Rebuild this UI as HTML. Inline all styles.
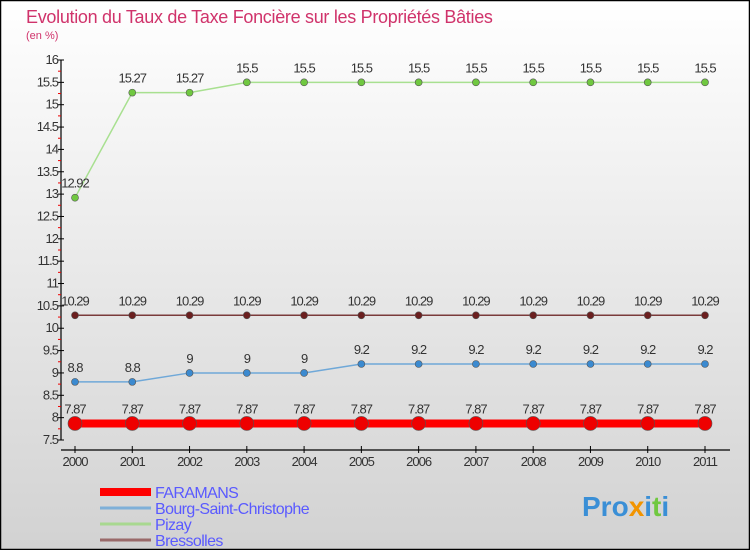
<!DOCTYPE html>
<html><head><meta charset="utf-8"><style>
html,body{margin:0;padding:0}
body{width:750px;height:550px;overflow:hidden;font-family:"Liberation Sans",sans-serif}
</style></head><body>
<svg id="chart" width="750" height="550" xmlns="http://www.w3.org/2000/svg">
<defs><linearGradient id="bg" x1="0" y1="0" x2="0" y2="1"><stop offset="0" stop-color="#ffffff"/><stop offset="1" stop-color="#d2d2d2"/></linearGradient></defs>
<rect x="0.5" y="0.5" width="749" height="549" fill="url(#bg)" stroke="#000" stroke-width="1.5"/>
<text x="26" y="23" font-size="18" fill="#d0336b" letter-spacing="-0.3">Evolution du Taux de Taxe Foncière sur les Propriétés Bâties</text>
<text x="26" y="39" font-size="11" fill="#d0336b">(en %)</text>
<g id="axes"></g><g id="series"></g><g id="legend"></g>
<text x="582" y="516" font-size="28" font-weight="bold" fill="#3a8fd6">Pro<tspan fill="#f29400">x</tspan>i<tspan fill="#70c840">t</tspan>i</text>
</svg>
<script>
const years=[2000,2001,2002,2003,2004,2005,2006,2007,2008,2009,2010,2011];
const yTicks=[7.5,8,8.5,9,9.5,10,10.5,11,11.5,12,12.5,13,13.5,14,14.5,15,15.5,16];
const faramans=[7.87,7.87,7.87,7.87,7.87,7.87,7.87,7.87,7.87,7.87,7.87,7.87];
const bourg=[8.8,8.8,9,9,9,9.2,9.2,9.2,9.2,9.2,9.2,9.2];
const pizay=[12.92,15.27,15.27,15.5,15.5,15.5,15.5,15.5,15.5,15.5,15.5,15.5];
const bressolles=[10.29,10.29,10.29,10.29,10.29,10.29,10.29,10.29,10.29,10.29,10.29,10.29];
const seriesNames=["FARAMANS","Bourg-Saint-Christophe","Pizay","Bressolles"];
const NS="http://www.w3.org/2000/svg";
const X=i=>75+i*(630/11);
const Y=v=>440-(v-7.5)*(380/8.5);
function mk(p,tag,a){const e=document.createElementNS(NS,tag);for(const k in a)e.setAttribute(k,a[k]);p.appendChild(e);return e;}
const ax=document.getElementById('axes');
let l=mk(ax,'line',{x1:61,y1:60,x2:61,y2:440,stroke:'#000','stroke-width':1.2});


l=mk(ax,'line',{x1:61,y1:450,x2:730,y2:450,stroke:'#000','stroke-width':1.2});


yTicks.forEach((v,i)=>{
  const y=Y(v);
  const t=mk(ax,'line',{x1:58,y1:y,x2:64,y2:y,stroke:'#000'});
  
  
  if(i<yTicks.length-1){const m=mk(ax,'line',{x1:58,y1:(y+Y(yTicks[i+1]))/2,x2:61,y2:(y+Y(yTicks[i+1]))/2,stroke:'#e00'});
  
  }
  const tx=mk(ax,'text',{x:58,y:y+4,'font-size':13,'text-anchor':'end',fill:'#333','letter-spacing':'-1'});
  tx.textContent=String(v);
  
  
});
years.forEach((yr,i)=>{
  const x=X(i);
  const t=mk(ax,'line',{x1:x,y1:446,x2:x,y2:453,stroke:'#000'});
  
  
  const tx=mk(ax,'text',{x:x,y:466,'font-size':13,'text-anchor':'middle',fill:'#333','letter-spacing':'-1'});
  tx.textContent=String(yr);
  
  
});
const sg=document.getElementById('series');
const defs=[
 {d:bressolles,c:'#7a3b3b',w:1.5,r:3.5,f:'#6b1f1f',n:'bressolles'},
 {d:pizay,c:'#a8e090',w:1.5,r:3.5,f:'#70c840',n:'pizay'},
 {d:bourg,c:'#6fa8d8',w:1.5,r:3.5,f:'#3b8ad0',n:'bourg-saint-christophe'},
 {d:faramans,c:'#f00',w:8,r:7,f:'#e00',n:'faramans'}];
defs.forEach(s=>{
  const pl=mk(sg,'polyline',{points:s.d.map((v,i)=>X(i)+','+Y(v)).join(' '),fill:'none',stroke:s.c,'stroke-width':s.w});
  
  
  s.d.forEach((v,i)=>{
    const c=mk(sg,'circle',{cx:X(i),cy:Y(v),r:s.r,fill:s.f,stroke:'#555','stroke-width':0.6});
    
    
    const t=mk(sg,'text',{x:X(i),y:Y(v)-10,'font-size':13,'text-anchor':'middle',fill:'#333','letter-spacing':'-1'});
    t.textContent=String(v);
    
    
  });
});
const lg=document.getElementById('legend');
const lc=[['#f00',8],['#7fb0d8',3],['#a8d890',3],['#9a6a6a',3]];
seriesNames.forEach((n,i)=>{
  const y=492+i*16;
  const ln=mk(lg,'line',{x1:100,y1:y,x2:151,y2:y,stroke:lc[i][0],'stroke-width':lc[i][1]});
  
  
  const t=mk(lg,'text',{x:155,y:y+6,'font-size':16,fill:'#5a5aff','letter-spacing':'-0.6'});
  t.textContent=n;
  
  
});
</script>
</body></html>
